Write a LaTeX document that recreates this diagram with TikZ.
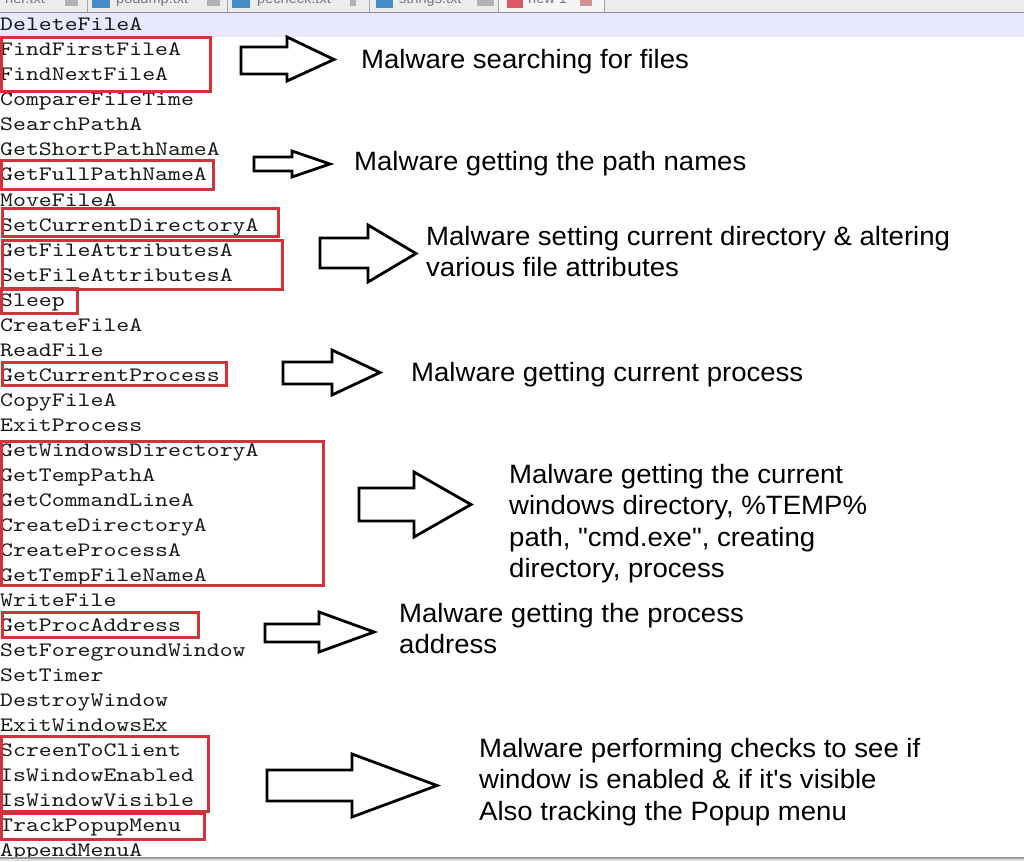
\documentclass[tikz,border=0pt]{standalone}
\usepackage{fontspec}
\newfontfamily\apifont{lmmono10-regular.otf}[FakeStretch=1.2]
\newfontfamily\labelfont{Liberation Sans}[FakeStretch=1.04]
\definecolor{boxred}{RGB}{208,52,58}
\definecolor{curline}{RGB}{232,232,255}
\definecolor{tabbg}{RGB}{236,236,236}
\definecolor{tabtext}{RGB}{120,120,120}
\definecolor{tabblue}{RGB}{70,140,200}
\definecolor{tabred}{RGB}{220,90,100}
\tikzset{
  api/.style={font=\apifont\fontsize{20.5}{25}\selectfont, text=black!90, inner sep=0pt, anchor=base west},
  lbl/.style={font=\labelfont\fontsize{26.5}{31.6}\selectfont, text=black, align=left, inner sep=0pt, anchor=base west},
  redbox/.style={draw=boxred, line width=3pt},
  blockarrow/.style={draw=black, fill=white, line width=2.8pt, line join=miter},
  tabsep/.style={draw=black!35, line width=1pt},
  tabtxt/.style={font=\labelfont\fontsize{14}{14}\selectfont, text=tabtext, inner sep=0pt, anchor=base west}
}
\newcommand\blkarrow[7]{%
  \draw[blockarrow] (#1,#2) -- (#4,#2) -- (#4,#5) -- (#7) -- (#4,#6) -- (#4,#3) -- (#1,#3) -- cycle;}
\begin{document}
\begin{tikzpicture}[x=1pt,y=-1pt]
\useasboundingbox (0,0) rectangle (1024,861);
\fill[white] (0,0) rectangle (1024,861);
% tab bar
\begin{scope}
\clip (0,0) rectangle (1024,12);
\fill[tabbg] (0,0) rectangle (1024,12);
\fill[white!96!black] (498,-2) rectangle (604,12);
\foreach \xx in {87,227,369,498,604} \draw[tabsep] (\xx,-2) -- (\xx,12);
\fill[black!30] (65,-4) rectangle (78,6);
\fill[tabblue] (92,-4) rectangle (110,8);
\fill[black!30] (207,-4) rectangle (220,6);
\fill[tabblue] (232,-4) rectangle (250,8);
\fill[black!30] (350,-4) rectangle (356,6);
\fill[tabblue] (376,-4) rectangle (393,8);
\fill[black!30] (477,-4) rectangle (494,6);
\fill[tabred] (507,-4) rectangle (523,8);
\fill[tabred!80!black!60] (580,-4) rectangle (592,6);
\node[tabtxt] (t1) at (5,4) {ner.txt};
\node[tabtxt] (t2) at (116,4) {podump.txt};
\node[tabtxt] (t3) at (257,4) {pecheck.txt};
\node[tabtxt] (t4) at (399,4) {strings.txt};
\node[tabtxt] (t5) at (528,4) {new 1};
\end{scope}
\draw[black!45, line width=1.2pt] (0,12.5) -- (1024,12.5);
% current line highlight
\fill[curline] (0,13) rectangle (1024,37);
% API list
\foreach \t [count=\i from 0] in {DeleteFileA,FindFirstFileA,FindNextFileA,CompareFileTime,SearchPathA,GetShortPathNameA,GetFullPathNameA,MoveFileA,SetCurrentDirectoryA,GetFileAttributesA,SetFileAttributesA,Sleep,CreateFileA,ReadFile,GetCurrentProcess,CopyFileA,ExitProcess,GetWindowsDirectoryA,GetTempPathA,GetCommandLineA,CreateDirectoryA,CreateProcessA,GetTempFileNameA,WriteFile,GetProcAddress,SetForegroundWindow,SetTimer,DestroyWindow,ExitWindowsEx,ScreenToClient,IsWindowEnabled,IsWindowVisible,TrackPopupMenu,AppendMenuA}
  \node[api] (api\i) at (0,{31+25*\i}) {\t};
% bottom bar
\fill[black!40] (0,857) rectangle (1024,859);
\fill[black!12] (0,859) rectangle (1024,861);
% red boxes
\draw[redbox] (1.5,37.5) rectangle (210,92);
\draw[redbox] (1.5,161) rectangle (213,189);
\draw[redbox] (2,208) rectangle (278,236);
\draw[redbox] (2,240) rectangle (282,289);
\draw[redbox] (1.5,288.5) rectangle (77,313);
\draw[redbox] (2,362) rectangle (226,385);
\draw[redbox] (1.5,441) rectangle (323,585);
\draw[redbox] (2,612) rectangle (198,637);
\draw[redbox] (1.5,736) rectangle (208,811);
\draw[redbox] (1.5,813) rectangle (204,839);
% block arrows
\blkarrow{241}{47}{74}{287}{37}{81}{334,59.5}
\blkarrow{254}{157}{171}{292}{151}{177}{330,164}
\blkarrow{320}{238}{268}{368}{225}{282}{416,253.5}
\blkarrow{283}{362}{384}{332}{350}{395}{380,372.5}
\blkarrow{359}{488}{521}{414}{472}{537}{471,504.5}
\blkarrow{265}{624}{642}{319}{612}{652}{374,632}
\blkarrow{267}{770}{801}{352}{754}{817}{437,785.5}
% labels (multi-line labels anchored at the baseline of their last line)
\node[lbl] (l1) at (361,69) {Malware searching for files};
\node[lbl] (l2) at (354,171) {Malware getting the path names};
\node[lbl] (l3) at (426,276.6) {Malware setting current directory \& altering\\various file attributes};
\node[lbl] (l4) at (411,381) {Malware getting current process};
\node[lbl] (l5) at (509,577.8) {Malware getting the current\\windows directory, \%TEMP\%\\path, "cmd.exe", creating\\directory, process};
\node[lbl] (l6) at (399,653.6) {Malware getting the process\\address};
\node[lbl] (l7) at (479,820.2) {Malware performing checks to see if\\window is enabled \& if it's visible\\Also tracking the Popup menu};
\end{tikzpicture}
\end{document}
